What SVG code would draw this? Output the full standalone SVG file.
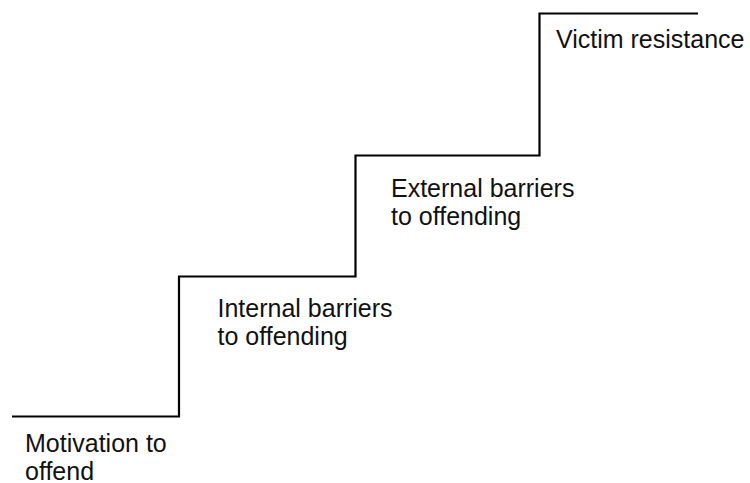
<svg xmlns="http://www.w3.org/2000/svg" width="750" height="483" viewBox="0 0 750 483">
<style>
.lbl{font-family:"Liberation Sans",Arial,sans-serif;font-size:25px;fill:#111}
.stair{fill:none;stroke:#000;stroke-width:2.2}
</style>
<rect width="750" height="483" fill="#fff"/>
<g id="connectors">
<path class="stair" d="M12,416.5 H179 V276.5 H355.5 V155.5 H539.5 V13.5 H698"/>
</g>
<g id="motivation"><text class="lbl" x="25" y="451.5">Motivation to</text><text class="lbl" x="25" y="479.5">offend</text></g>
<g id="internal"><text class="lbl" x="217.5" y="316.5">Internal barriers</text><text class="lbl" x="217.5" y="344.5">to offending</text></g>
<g id="external"><text class="lbl" x="391" y="196.5">External barriers</text><text class="lbl" x="391" y="224.5">to offending</text></g>
<g id="victim"><text class="lbl" x="556" y="48">Victim resistance</text></g>
</svg>
